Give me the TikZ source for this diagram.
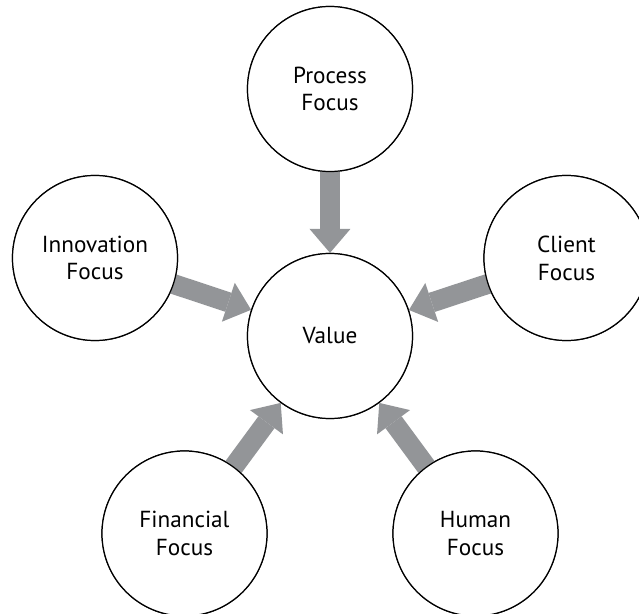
\documentclass[tikz,border=0pt]{standalone}
\usepackage{fontspec}
\setmainfont{PT Sans}
\usepackage{xcolor}
\usetikzlibrary{arrows.meta}
\definecolor{arrowgray}{RGB}{147,149,152}

\begin{document}
\begin{tikzpicture}[every node/.style={circle, draw, line width=0.7pt, minimum size=3.3cm, fill=white, align=center, font=\fontsize{13.2}{15.8}\selectfont},
  twolines/.style={execute at begin node={\rule{0pt}{15pt}}},
  flow/.style={arrowgray, line width=0.4cm, -{Triangle[width=0.82cm,length=0.48cm,line width=0pt]}, shorten <=-4pt}]
\useasboundingbox (-6.6,-5.54) rectangle (6.18,6.72);
% Circles
\node (value) at (0,0) {Value};
\node[twolines] (process) at (0,4.94) {Process\\Focus};
\node[twolines] (innov) at (-4.7,1.56) {Innovation\\Focus};
\node[twolines] (client) at (4.73,1.56) {Client\\Focus};
\node[twolines] (financ) at (-2.91,-3.95) {Financial\\Focus};
\node[twolines] (human) at (2.91,-3.95) {Human\\Focus};

%Arrows
\draw[flow] (process) -- (value);
\draw[flow] (innov) -- (value);
\draw[flow] (client) -- (value);
\draw[flow] (financ) -- (value);
\draw[flow] (human) -- (value);

% Circles
\node (value) at (0,0) {Value};
\node[twolines] (process) at (0,4.94) {Process\\Focus};
\node[twolines] (innov) at (-4.7,1.56) {Innovation\\Focus};
\node[twolines] (client) at (4.73,1.56) {Client\\Focus};
\node[twolines] (financ) at (-2.91,-3.95) {Financial\\Focus};
\node[twolines] (human) at (2.91,-3.95) {Human\\Focus};
\end{tikzpicture}
\end{document}
